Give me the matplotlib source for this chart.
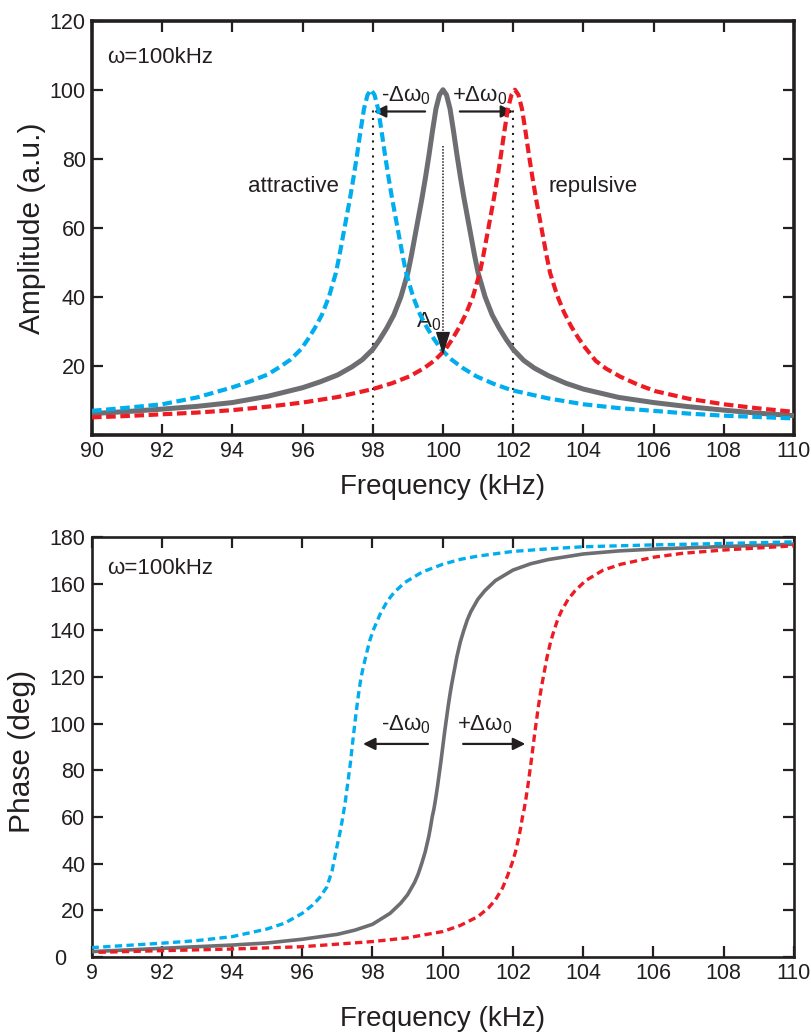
import matplotlib
matplotlib.use("Agg")
import matplotlib.pyplot as plt

plt.rcParams["font.family"] = ["Liberation Sans", "DejaVu Sans"]
plt.rcParams["mathtext.fontset"] = "custom"
plt.rcParams["mathtext.rm"] = "Liberation Sans"
plt.rcParams["mathtext.it"] = "Liberation Sans"

INK = "#231F20"
GRAY = "#6D6E71"
BLUE = "#00AEEF"
RED = "#ED1C24"

# amplitude curves
amp_f_gray = [90, 91, 92, 93, 94, 95, 96, 96.5, 97, 97.4, 97.7, 98, 98.2, 98.4, 98.6, 98.8,
              99.0, 99.1, 99.2, 99.3, 99.4, 99.5, 99.6, 99.7, 99.8, 99.9, 100,
              100.1, 100.2, 100.3, 100.4, 100.5, 100.6, 100.7, 100.8, 100.9, 101, 101.2,
              101.4, 101.6, 101.8, 102, 102.3, 102.6, 103, 103.5, 104, 105, 106, 107, 108,
              109, 110]
amp_gray = [6.2, 6.8, 7.5, 8.3, 9.4, 11.2, 13.7, 15.4, 17.4, 19.7, 21.8, 24.8, 27.7, 31,
            34.8, 40, 47, 52, 57.5, 63, 68.5, 74.5, 81, 88, 94.5, 98.5, 100,
            98.5, 94.5, 88, 81, 74.5, 68.5, 63, 57.5, 52, 47, 40, 34.8, 31, 27.7, 24.8,
            21.6, 19.4, 17.2, 15.0, 13.3, 10.9, 9.4, 8.2, 7.2, 6.3, 5.6]

amp_f_blue = [90, 91, 92, 93, 94, 94.5, 95, 95.35, 95.65, 95.95, 96.15, 96.35, 96.55, 96.75,
              96.95, 97.05, 97.15, 97.25, 97.35, 97.45, 97.55, 97.65, 97.75, 97.85, 97.95,
              98.05, 98.15, 98.25, 98.35, 98.45, 98.55, 98.65, 98.75, 98.85, 98.95, 99.15,
              99.35, 99.55, 99.75, 99.95, 100.25, 100.55, 100.95, 101.45, 101.95, 103, 104,
              105, 106, 107, 108, 109, 110]
amp_blue = [7.0, 7.9, 8.9, 10.9, 13.8, 15.5, 17.5, 19.7, 21.8, 24.8, 27.7, 31, 34.8, 40, 47,
            52, 57.5, 63, 68.5, 74.5, 81, 88, 94.5, 98.5, 100, 98.5, 94.5, 88, 81, 74.5,
            68.5, 63, 57.5, 52, 47, 40, 34.8, 31, 27.7, 24.8, 21.8, 19.5, 17.0, 14.8, 13.0,
            10.6, 8.9, 7.8, 7.0, 6.2, 5.6, 5.2, 4.8]

amp_f_red = [90, 91, 92, 93, 94, 95, 96, 97, 98, 98.55, 99.05, 99.45, 99.75, 100.05,
             100.25, 100.45, 100.65, 100.85, 101.05, 101.15, 101.25, 101.35, 101.45, 101.55,
             101.65, 101.75, 101.85, 101.95, 102.05, 102.15, 102.25, 102.35, 102.45, 102.55,
             102.65, 102.75, 102.85, 102.95, 103.05, 103.25, 103.45, 103.65, 103.85, 104.05,
             104.35, 104.65, 105.05, 105.55, 106.05, 107, 108, 109, 110]
amp_red = [5.1, 5.5, 6.0, 6.5, 7.2, 8.2, 9.4, 11.0, 13.3, 15.0, 17.0, 19.3, 21.5, 24.5, 27.5,
           31, 35, 40, 47, 52, 57.5, 63, 68.5, 74.5, 81, 88, 94.5, 98.5, 100, 98.5, 94.5,
           88, 81, 74.5, 68.5, 63, 57.5, 52, 47, 40.5, 35.5, 31.5, 28.2, 25.3, 21.5, 19.2,
           16.9, 14.6, 12.7, 10.5, 8.9, 7.7, 6.7]

# phase curves
ph_f_gray = [90, 92, 94, 95, 96, 97, 97.5, 98, 98.5, 98.8, 99.0, 99.2, 99.3, 99.4, 99.5,
             99.6, 99.65, 99.7, 99.75, 99.8, 99.85, 99.9, 99.95, 100, 100.05, 100.1, 100.15,
             100.2, 100.25, 100.3, 100.35, 100.4, 100.5, 100.6, 100.7, 100.8, 101.0, 101.2,
             101.5, 102, 102.5, 103, 104, 105, 106, 108, 110]
ph_gray = [2.3, 3.7, 5.1, 6.0, 7.6, 9.7, 11.5, 14.0, 18.7, 23, 26.7, 32, 35.5, 40, 45, 51.5,
           55.5, 60, 63.5, 68, 73, 78.5, 84, 90, 96, 101.5, 107, 112, 116.5, 120.5, 124.5,
           128.5, 135, 140, 144.5, 148, 153.3, 157, 161.3, 165.8, 168.5, 170.3, 172.7, 174,
           174.8, 175.9, 176.9]

ph_f_blue = [90, 92, 93, 94, 95, 95.5, 96, 96.3, 96.5, 96.7, 96.85, 96.97, 97.07, 97.15,
             97.22, 97.3, 97.37, 97.42, 97.47, 97.52, 97.57, 97.62, 97.67, 97.72, 97.82,
             97.92, 98.02, 98.12, 98.22, 98.42, 98.62, 98.92, 99.42, 100, 100.5, 101, 102,
             103, 104, 106, 108, 110]
ph_blue = [4.0, 5.9, 7.0, 8.7, 12, 14.5, 18.7, 22.3, 25.5, 30, 37, 46, 53, 59.5, 66, 75, 83,
           90, 96.5, 103, 109, 114.5, 119.5, 123, 129.5, 135.5, 140, 143.5, 147, 152.5,
           156.3, 160.5, 165, 168.3, 170.4, 171.8, 173.8, 174.9, 175.8, 176.6, 177.2, 177.9]

ph_f_red = [90.2, 92, 94, 96, 98, 99, 100, 100.5, 101, 101.3, 101.5, 101.7, 101.85, 101.97,
            102.07, 102.17, 102.22, 102.27, 102.32, 102.37, 102.42, 102.47, 102.52, 102.57,
            102.62, 102.67, 102.72, 102.77, 102.82, 102.87, 102.92, 102.97, 103.07, 103.17,
            103.27, 103.37, 103.57, 103.77, 104.07, 104.57, 105.07, 106, 106.83, 108, 110]
ph_red = [2.0, 2.7, 3.4, 4.4, 6.6, 8.2, 10.9, 13.5, 17.3, 21, 24.5, 29.5, 35, 40, 45, 51.5,
          55.5, 60, 63.5, 68, 73, 78.5, 84, 90, 96, 101.5, 107, 112, 116.5, 120.5, 124.5,
          128.5, 135, 140, 144.5, 148, 153.3, 157, 161.3, 165.8, 168.3, 171.3, 173, 174.4,
          176.2]

freq_ticks = list(range(90, 111, 2))
amp_ticks = list(range(0, 121, 20))
amp_ticklabels = [""] + [str(v) for v in amp_ticks[1:]]
ph_ticks = list(range(0, 181, 20))
ph_ticklabels = ["0   "] + [str(v) for v in ph_ticks[1:]]
ph_freq_labels = ["9"] + [str(v) for v in freq_ticks[1:]]

sub0 = r"$_\mathregular{0}$"

fig = plt.figure(figsize=(8.12, 10.34), dpi=100)
ax1 = fig.add_axes([0.1133, 0.5793, 0.8645, 0.4007])
ax2 = fig.add_axes([0.1127, 0.0745, 0.8651, 0.4062])


def style_axes(ax, spine_w):
    for sp in ax.spines.values():
        sp.set_linewidth(spine_w)
        sp.set_color(INK)
    ax.tick_params(direction="in", top=True, right=True, length=8, width=1.6,
                   labelsize=15.5, pad=4.5, colors=INK)


# ---------- amplitude ----------
ax1.plot(amp_f_gray, amp_gray, color=GRAY, lw=3.6, solid_capstyle="butt", zorder=3)
ax1.plot(amp_f_blue, amp_blue, color=BLUE, lw=3.0, ls=(0, (2.3, 1.1)), zorder=4)
ax1.plot(amp_f_red, amp_red, color=RED, lw=3.0, ls=(0, (2.3, 1.1)), zorder=4)

for f0 in (98, 102):
    ax1.plot([f0, f0], [0, 94], color=INK, lw=1.5, ls=(0, (1, 2.6)), zorder=2)

ax1.plot([100, 100], [83.6, 29], color=INK, lw=1.1, ls=(0, (1, 1)), zorder=5)
ax1.annotate("", xy=(100, 23.2), xytext=(100, 29.5),
             arrowprops=dict(arrowstyle="-|>,head_length=0.8,head_width=0.25", color=INK,
                             lw=1.0, mutation_scale=18, shrinkA=0, shrinkB=0), zorder=6)
ax1.text(99.95, 32.7, "A" + sub0, fontsize=16, color=INK, ha="right", va="center")

arrow_kw = dict(arrowstyle="-|>", color=INK, lw=1.6, mutation_scale=18, shrinkA=0, shrinkB=0)
ax1.annotate("", xy=(98.03, 93.7), xytext=(99.49, 93.7), arrowprops=arrow_kw)
ax1.annotate("", xy=(102.0, 93.7), xytext=(100.48, 93.7), arrowprops=arrow_kw)
ax1.text(98.95, 98.3, "-Δω" + sub0, fontsize=16, color=INK, ha="center", va="center")
ax1.text(101.05, 98.3, "+Δω" + sub0, fontsize=16, color=INK, ha="center", va="center")

ax1.text(90.43, 109.2, "ω=100kHz", fontsize=16, color=INK, ha="left", va="center")
ax1.text(95.75, 72.0, "attractive", fontsize=16, color=INK, ha="center", va="center")
ax1.text(104.28, 72.0, "repulsive", fontsize=16, color=INK, ha="center", va="center")

ax1.set_xlim(90, 110)
ax1.set_ylim(0, 120)
ax1.set_xticks(freq_ticks)
ax1.set_yticks(amp_ticks)
ax1.set_yticklabels(amp_ticklabels)
style_axes(ax1, 2.6)
ax1.set_xlabel("Frequency (kHz)", fontsize=20, color=INK)
ax1.xaxis.set_label_coords(0.5, -0.094)
ax1.set_ylabel("Amplitude (a.u.)", fontsize=21.5, color=INK)
ax1.yaxis.set_label_coords(-0.066, 0.5)

# ---------- phase ----------
ax2.plot(ph_f_gray, ph_gray, color=GRAY, lw=2.6, zorder=3)
ax2.plot(ph_f_blue, ph_blue, color=BLUE, lw=2.4, ls=(0, (2.2, 1.3)), zorder=4)
ax2.plot(ph_f_red, ph_red, color=RED, lw=2.4, ls=(0, (2.2, 1.3)), zorder=4)

ax2.annotate("", xy=(97.73, 91.3), xytext=(99.58, 91.3), arrowprops=arrow_kw)
ax2.annotate("", xy=(102.35, 91.3), xytext=(100.58, 91.3), arrowprops=arrow_kw)
ax2.text(98.95, 99.5, "-Δω" + sub0, fontsize=16, color=INK, ha="center", va="center")
ax2.text(101.2, 99.5, "+Δω" + sub0, fontsize=16, color=INK, ha="center", va="center")
ax2.text(90.45, 166.3, "ω=100kHz", fontsize=16, color=INK, ha="left", va="center")

ax2.set_xlim(90, 110)
ax2.set_ylim(0, 180)
ax2.set_xticks(freq_ticks)
ax2.set_xticklabels(ph_freq_labels)
ax2.set_yticks(ph_ticks)
ax2.set_yticklabels(ph_ticklabels)
style_axes(ax2, 1.9)
ax2.set_xlabel("Frequency (kHz)", fontsize=20, color=INK)
ax2.xaxis.set_label_coords(0.5, -0.117)
ax2.set_ylabel("Phase (deg)", fontsize=21.5, color=INK)
ax2.yaxis.set_label_coords(-0.079, 0.49)

fig.savefig("out.png", dpi=100)
